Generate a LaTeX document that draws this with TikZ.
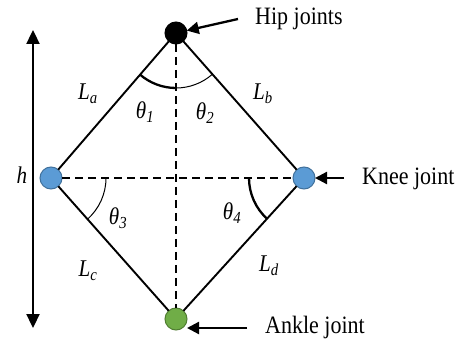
\documentclass[tikz,border=0pt]{standalone}
\usepackage{fontspec}
\setmainfont{Liberation Serif}
\usepackage{tikz}
\usetikzlibrary{arrows.meta, calc}
\definecolor{KneeBlue}{HTML}{5B9BD5}
\definecolor{KneeEdge}{HTML}{41719C}
\definecolor{AnkleGreen}{HTML}{70AD47}
\definecolor{AnkleEdge}{HTML}{507E32}
\tikzset{
  joint/.style={circle, minimum size=22pt, inner sep=0pt, outer sep=0pt, line width=1pt},
  leg/.style={line width=1.9pt},
  guide/.style={line width=1.8pt, dash pattern=on 8pt off 5pt},
  arr/.style={-{Triangle[length=12pt, width=12pt]}, line width=2.3pt},
  harr/.style={{Triangle[length=14pt, width=13pt]}-{Triangle[length=14pt, width=13pt]}, line width=2.3pt},
  thickarc/.style={line width=2.3pt},
  thinarc/.style={line width=1pt},
  lbl/.style={font=\fontsize{24}{28}\selectfont\itshape, inner sep=0pt, xscale=0.88, transform shape},
  txt/.style={font=\fontsize{25}{28}\selectfont, anchor=base west, inner sep=0pt, xscale=0.88, transform shape}
}
\newcommand{\sbl}[1]{\textsubscript{\itshape #1}}

\begin{document}
\begin{tikzpicture}[x=1pt, y=1pt]
\useasboundingbox (0,0) rectangle (465,345);

% joints
\node[joint, fill=black, draw=black] at (176,312) (hip) {};
\node[joint, fill=KneeBlue, draw=KneeEdge] at (51,167) (kneeL) {};
\node[joint, fill=KneeBlue, draw=KneeEdge] at (304,167) (kneeR) {};
\node[joint, fill=AnkleGreen, draw=AnkleEdge] at (176,26) (ankle) {};

% dashed guides
\draw[guide] (hip) -- (ankle);
\draw[guide] (kneeL) -- (kneeR);

% legs
\draw[leg] (hip) -- (kneeL);
\draw[leg] (hip) -- (kneeR);
\draw[leg] (kneeL) -- (ankle);
\draw[leg] (kneeR) -- (ankle);

% angles
\draw[thickarc] ([shift={(229:55)}]hip.center) arc[start angle=229, end angle=270, radius=55];
\draw[thinarc] ([shift={(270:55)}]hip.center) arc[start angle=270, end angle=311, radius=55];
\draw[thinarc] ([shift={(-49:55)}]kneeL.center) arc[start angle=-49, end angle=0, radius=55];
\draw[thickarc] ([shift={(180:55)}]kneeR.center) arc[start angle=180, end angle=228, radius=55];

% height
\coordinate (htop) at (33,315);
\coordinate (hbot) at (33,17);
\draw[harr] (hbot) -- (htop);
\node[lbl] at (22,170) (hlbl) {h};

% labels
\node[lbl] at (88,251) (la) {L\sbl{a}};
\node[lbl] at (263,251) (lb) {L\sbl{b}};
\node[lbl] at (88,74) (lc) {L\sbl{c}};
\node[lbl] at (269,79) (ld) {L\sbl{d}};
\node[lbl] at (145,233) (t1) {θ\sbl{1}};
\node[lbl] at (205,232) (t2) {θ\sbl{2}};
\node[lbl] at (118,127) (t3) {θ\sbl{3}};
\node[lbl] at (232,132) (t4) {θ\sbl{4}};

% callouts
\node[txt] at (255,320) (hiptxt) {Hip joints};
\node[txt] at (362,160) (kneetxt) {Knee joint};
\node[txt] at (265,12) (ankletxt) {Ankle joint};
\coordinate (hiptail) at (238,326);
\coordinate (kneetail) at (344,167);
\coordinate (ankletail) at (247,17);
\draw[arr] (hiptail) -- (hip);
\draw[arr] (kneetail) -- (kneeR);
\draw[arr] (ankletail) -- (ankletail -| ankle.east);

\end{tikzpicture}
\end{document}
